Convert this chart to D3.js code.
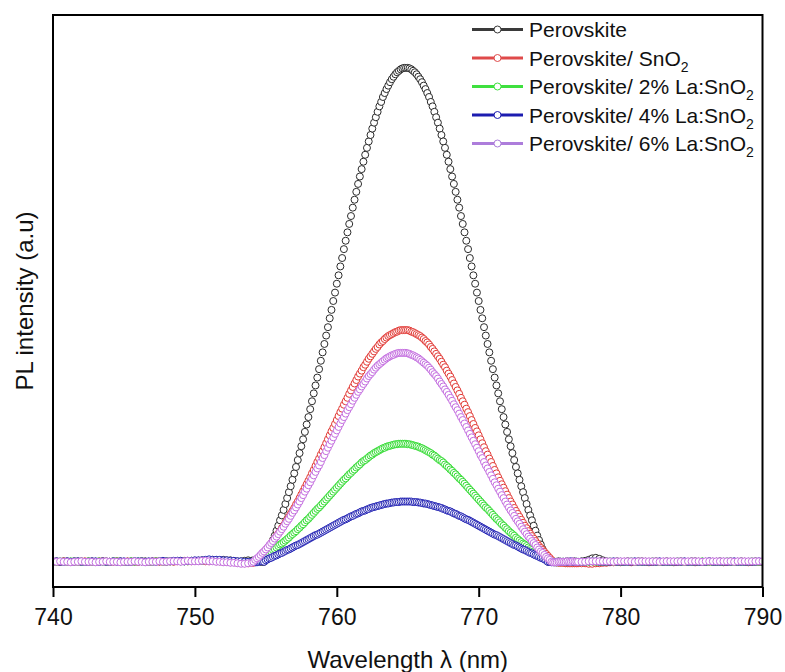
<!DOCTYPE html>
<html>
<head>
<meta charset="utf-8">
<script src="https://cdn.jsdelivr.net/npm/d3@7"></script>
<style>
  html, body { margin: 0; padding: 0; background: #fff; }
  svg { display: block; font-family: "Liberation Sans", Arial, sans-serif; }
</style>
</head>
<body>
<svg id="chart"></svg>
<script>
// wavelength grid: 0.25 nm on the flat parts, 0.125 nm across the peak
var wavelength = d3.range(740, 754, 0.25)
  .concat(d3.range(754, 777.0625, 0.125))
  .concat(d3.range(777.25, 790.0625, 0.25));

// PL intensity (a.u.), one value per wavelength
var perovskite = [
  0,1,0,1,1,0,0,1,1,0,1,1,0,0,1,1,0,1,1,1,0,0,1,1,0,1,1,0,0,1,1,1,0,1,1,2,1,1,2,2,2,2,3,3,4,4,4,3,4,3,3,2,1,1,2,3,
  2,3,3,2,1,0,0,0,
  9,17,26,35,44,53,63,73,84,94,105,117,129,141,153,166,179,192,206,220,234,248,263,278,293,309,325,341,357,373,
  390,407,424,441,458,475,493,510,528,545,563,580,598,615,633,650,667,684,700,717,733,749,765,780,795,810,824,838,851,864,
  877,889,900,911,922,931,941,949,957,964,971,977,982,987,991,994,997,999,1000,1000,
  1000,999,997,994,991,987,982,977,971,964,957,949,941,931,922,911,900,889,877,864,851,838,824,810,795,780,765,749,733,717,
  700,684,667,650,633,615,598,580,563,545,528,510,493,475,458,441,424,407,390,373,357,341,325,309,293,278,263,248,234,220,
  206,192,179,166,153,141,129,117,105,94,84,73,63,53,44,35,26,17,9,0,
  0,0,1,0,0,1,0,0,0,0,1,0,0,0,1,0,0,
  1,2,4,7,8,6,3,1,0,0,1,0,0,1,0,0,1,1,0,0,0,1,0,0,1,0,0,0,1,0,0,1,1,0,0,0,1,0,0,1,0,0,1,0,0,1,0,0,0,1,0,0
];
var snO2 = [
  1,0,0,1,0,0,1,0,0,1,0,0,0,1,1,0,0,0,1,0,0,1,0,0,0,1,0,0,1,1,0,0,1,1,0,1,2,2,1,1,2,2,2,1,1,2,1,1,0,0,-1,-1,-2,-2,-3,-3,
  -2,-2,
  0,4,8,12,16,20,24,28,32,37,42,47,52,57,62,68,73,79,85,91,97,103,109,116,122,129,136,143,150,157,
  164,171,179,186,194,202,209,217,224,232,240,248,256,264,271,279,287,295,303,310,318,325,332,340,347,354,361,368,375,381,
  387,394,399,405,411,416,421,426,431,435,440,444,447,451,454,457,459,461,463,465,466,468,469,469,469,
  469,469,468,466,465,463,461,459,457,454,451,447,444,440,435,431,426,421,416,411,405,399,394,387,381,375,368,361,354,347,
  340,332,325,318,310,303,295,287,279,271,264,256,248,240,232,224,217,209,202,194,186,179,171,164,157,150,143,136,129,122,
  116,109,103,97,91,85,79,73,68,62,57,52,47,42,37,32,28,24,20,16,12,8,4,0,
  -1,-1,-2,-2,-2,-2,-3,-3,-3,-3,-3,-3,-3,-3,
  -3,-3,-4,-4,-3,-3,-2,-2,-1,-1,0,-1,0,0,-1,0,0,0,0,-1,0,0,0,0,0,0,-1,0,0,0,0,0,-1,0,0,0,0,0,0,0,-1,0,0,0,0,0,0,-1,0,0,0,0
];
var la2 = [
  0,0,1,0,0,1,1,0,0,0,1,0,0,1,0,0,0,1,1,0,0,0,1,0,1,1,0,0,0,1,1,0,1,1,1,2,1,1,1,2,2,2,2,3,2,2,2,1,1,1,0,0,-1,-1,-1,0,
  0,
  0,2,4,6,8,10,12,14,17,19,21,24,26,29,32,35,37,40,43,46,49,53,56,59,62,66,69,73,76,80,
  84,87,91,95,99,103,107,110,114,118,122,126,130,134,138,142,146,150,154,158,162,166,169,173,177,180,184,187,191,194,
  197,201,204,206,209,212,215,217,220,222,224,226,228,230,231,233,234,235,236,237,238,238,239,239,239,
  239,239,238,238,237,236,235,234,233,231,230,228,226,224,222,220,217,215,212,209,206,204,201,197,194,191,187,184,180,177,
  173,169,166,162,158,154,150,146,142,138,134,130,126,122,118,114,110,107,103,99,95,91,87,84,80,76,73,69,66,62,
  59,56,53,49,46,43,40,37,35,32,29,26,24,21,19,17,14,12,10,8,6,4,2,0,
  0,-1,-1,-1,0,0,0,-1,0,0,0,0,0,0,0,
  0,0,0,1,0,0,0,0,1,0,0,0,0,0,1,0,0,0,0,0,1,0,0,0,0,0,0,1,0,0,0,0,0,0,1,0,0,0,0,0,0,1,0,0,0,0,0,0,1,0,0,0
];
var la4 = [
  1,1,0,0,1,0,1,1,0,0,0,1,1,0,1,0,0,1,0,1,1,0,0,1,1,1,0,1,1,0,1,2,1,1,2,2,2,1,2,2,3,3,3,4,5,4,4,4,3,3,2,2,1,1,0,0,
  0,0,-1,-1,0,1,1,0,
  3,5,7,8,10,12,13,15,17,18,20,22,24,25,27,29,31,33,34,36,38,40,42,44,46,48,50,52,54,55,
  57,59,61,63,65,67,69,71,73,75,77,79,81,83,85,86,88,90,92,93,95,97,98,100,102,103,104,106,107,109,
  110,111,112,113,114,115,116,117,118,118,119,120,120,121,121,121,122,122,122,122,
  122,122,122,121,121,121,120,120,119,118,118,117,116,115,114,113,112,111,110,109,107,106,104,103,102,100,98,97,95,93,
  92,90,88,86,85,83,81,79,77,75,73,71,69,67,65,63,61,59,57,55,54,52,50,48,46,44,42,40,38,36,
  34,33,31,29,27,25,24,22,20,18,17,15,13,12,10,8,7,5,3,0,
  0,-1,-1,-1,-1,0,0,0,0,0,0,0,1,0,0,0,0,
  0,0,1,1,1,0,0,0,0,1,0,0,0,0,0,1,0,0,0,0,0,0,1,0,0,0,0,0,0,1,0,0,0,0,0,0,1,0,0,0,0,0,0,1,0,0,0,0,0,0,1,0
];
var la6 = [
  0,0,1,0,0,-1,0,0,1,0,0,0,-1,0,0,1,0,0,0,-1,0,0,0,1,0,0,-1,0,0,0,1,0,0,1,1,1,0,1,2,1,1,1,2,2,1,1,0,0,-1,-1,-2,-2,-3,-4,-4,-3,
  -2,
  0,4,7,10,14,18,21,25,29,34,38,42,47,51,56,61,66,71,77,82,87,93,99,104,110,116,122,129,135,142,
  148,155,161,168,175,182,189,195,202,210,216,224,231,238,245,252,259,266,273,280,287,293,300,307,313,319,326,332,338,344,
  349,355,360,365,371,376,380,384,389,393,397,400,403,406,409,412,414,416,418,419,421,422,423,423,423,
  423,423,422,421,419,418,416,414,412,409,406,403,400,397,393,389,384,380,376,371,365,360,355,349,344,338,332,326,319,313,
  307,300,293,287,280,273,266,259,252,245,238,231,224,216,210,202,195,189,182,175,168,161,155,148,142,135,129,122,116,110,
  104,99,93,87,82,77,71,66,61,56,51,47,42,38,34,29,25,21,18,14,10,7,4,0,
  -1,-1,-1,0,0,0,0,0,1,0,0,1,0,0,0,
  0,0,1,1,1,1,1,1,1,0,1,1,1,1,1,0,1,1,1,1,1,1,0,1,1,1,1,1,1,0,1,1,1,1,0,1,1,1,1,1,1,1,1,0,1,1,1,1,1,1,1,1
];

var labels = ['Perovskite', 'Perovskite/ SnO', 'Perovskite/ 2% La:SnO', 'Perovskite/ 4% La:SnO', 'Perovskite/ 6% La:SnO'];
var subscripts = ['', '2', '2', '2', '2'];
var markerColors = ['#2b2b2b', '#e23a36', '#35dc35', '#2424b4', '#c46ee0'];
var legendColors = ['#3a3a3a', '#df4a4a', '#3fe03f', '#1c1cb0', '#ad7ddb'];
var xTicks = [740, 750, 760, 770, 780, 790];

var width = 785, height = 672,
    plotL = 53, plotR = 762.5, plotT = 15, plotB = 587;

var svg = d3.select('#chart').attr('width', width).attr('height', height);

var x = d3.scaleLinear().domain([740, 790]).range([plotL, plotR]);
var y = d3.scaleLinear().domain([-51, 1107]).range([plotB, plotT]);

svg.append('defs').append('clipPath').attr('id', 'plot-clip')
  .append('rect')
    .attr('x', plotL).attr('y', plotT)
    .attr('width', plotR - plotL).attr('height', plotB - plotT);

var plot = svg.append('g').attr('clip-path', 'url(#plot-clip)');

[perovskite, snO2, la2, la4, la6].forEach(function(values, i){
  var pts = values.map(function(v, j){ return [wavelength[j], v]; });
  plot.append('g')
    .selectAll('circle')
    .data(pts)
    .enter()
      .append('circle')
      .attr('cx', function(d){ return x(d[0]); })
      .attr('cy', function(d){ return y(d[1]); })
      .attr('r', 3.5)
      .attr('fill', '#fff')
      .attr('stroke', markerColors[i])
      .attr('stroke-width', 1);
});

// frame
svg.append('rect')
  .attr('x', plotL).attr('y', plotT)
  .attr('width', plotR - plotL).attr('height', plotB - plotT)
  .attr('fill', 'none').attr('stroke', '#000').attr('stroke-width', 2);

var xAxis = svg.append('g')
  .attr('transform', 'translate(0,' + plotB + ')')
  .call(d3.axisBottom(x).tickValues(xTicks).tickSize(10).tickPadding(12).tickFormat(d3.format('d')));
xAxis.select('.domain').remove();
xAxis.selectAll('.tick line').attr('stroke', '#000').attr('stroke-width', 2);
xAxis.selectAll('.tick text')
  .attr('fill', '#111')
  .style('font-family', '"Liberation Sans", Arial, sans-serif')
  .style('font-size', '23px');

svg.append('text')
  .attr('x', (plotL + plotR) / 2).attr('y', 668)
  .attr('text-anchor', 'middle')
  .attr('fill', '#111')
  .style('font-size', '24px')
  .text('Wavelength \u03bb (nm)');

svg.append('text')
  .attr('transform', 'translate(33,' + (plotT + plotB) / 2 + ') rotate(-90)')
  .attr('text-anchor', 'middle')
  .attr('fill', '#111')
  .style('font-size', '24px')
  .text('PL intensity (a.u)');

// legend
var legend = svg.append('g');
labels.forEach(function(label, i){
  var base = 37 + i * 28.5;
  var row = legend.append('g');
  row.append('line')
    .attr('x1', 472).attr('x2', 523)
    .attr('y1', base - 7.5).attr('y2', base - 7.5)
    .attr('stroke', legendColors[i]).attr('stroke-width', 3);
  row.append('circle')
    .attr('cx', 497.5).attr('cy', base - 7.5).attr('r', 3.5)
    .attr('fill', '#fff').attr('stroke', legendColors[i]).attr('stroke-width', 1);
  var t = row.append('text')
    .attr('x', 529).attr('y', base)
    .attr('fill', '#111')
    .style('font-size', '21px')
    .text(label);
  if (subscripts[i]) {
    t.append('tspan')
      .attr('dy', 6)
      .style('font-size', '14px')
      .text(subscripts[i]);
  }
});
</script>
</body>
</html>
